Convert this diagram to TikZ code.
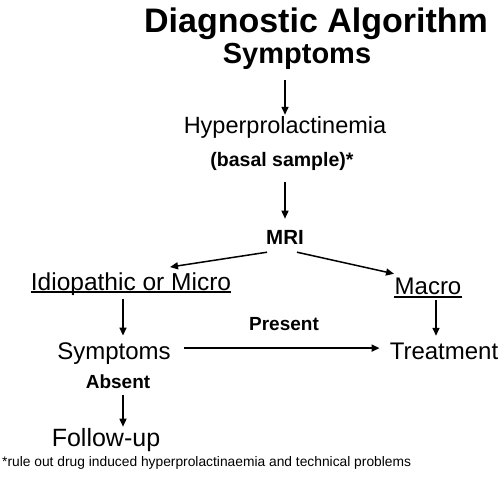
\documentclass[tikz,border=0pt]{standalone}
\usepackage{fontspec}
\setmainfont{Liberation Sans}
\usetikzlibrary{arrows.meta,positioning}
\newcommand{\fsz}[1]{\fontsize{#1}{#1}\selectfont}
\tikzset{
  basetext/.style={inner sep=0pt,anchor=base},
  titlenode/.style={basetext,font=\fsz{34}\bfseries},
  headnode/.style={basetext,font=\fsz{29}\bfseries},
  stepnode/.style={basetext,font=\fsz{24}},
  labnode/.style={basetext,font=\fsz{19}\bfseries},
  mrinode/.style={basetext,font=\fsz{20.5}\bfseries},
  notenode/.style={inner sep=0pt,anchor=base west,font=\fsz{13.8}},
  arr/.style={-{Triangle[length=8pt,width=7pt]},line width=1.5pt,color=black},
  uline/.style={line width=1.3pt}
}
\begin{document}
\begin{tikzpicture}[x=1pt,y=-1pt]
  \useasboundingbox (0,0) rectangle (500,482);
  %% Title and first steps
  \node[titlenode] (title) at (316,32) {Diagnostic Algorithm};
  \node[headnode] (symtop) at (297,63) {Symptoms};
  \node[stepnode,font=\fsz{23.5}] (hyp) at (285,133) {Hyperprolactinemia};
  \node[labnode,font=\fsz{19.5}\bfseries] (basal) at (282,166) {(basal sample)*};
  \node[mrinode] (mri) at (285,244) {MRI};

  %% Branches
  \node[stepnode,font=\fsz{24.5}] (idio) at (131,290) {Idiopathic or Micro};
  \node[stepnode] (macro) at (428,294) {Macro};
  \node[stepnode] (sym) at (114,359) {Symptoms};
  \node[stepnode] (treat) at (444,359) {Treatment};
  \node[labnode] (present) at (284,330) {Present};
  \node[labnode] (absent) at (118,388) {Absent};
  \node[stepnode,font=\fsz{25}] (follow) at (106,446) {Follow-up};

  %% Footnote
  \node[notenode] (note) at (2,466) {*rule out drug induced hyperprolactinaemia and technical problems};

  %% Underlines
  \draw[uline] ([yshift=-2pt]idio.base west) -- ([yshift=-2pt]idio.base east);
  \draw[uline] ([yshift=-3pt]macro.base west) -- ([yshift=-3pt]macro.base east);

  %% Arrows
  \draw[arr,shorten <=11pt,shorten >=1pt] (hyp.north |- symtop.south) -- (hyp.north);
  \draw[arr,shorten <=12pt,shorten >=11pt] (mri.north |- basal.south) -- (mri.north);
  \draw[arr] ([xshift=-18pt,yshift=-8pt]mri.south) -- ([xshift=39pt,yshift=5pt]idio.north);
  \draw[arr] ([xshift=12pt,yshift=-8pt]mri.south) -- ([xshift=-34pt,yshift=3.5pt]macro.north);
  \draw[arr,shorten <=4pt,shorten >=6.5pt] ([xshift=9pt]sym.north |- idio.south) -- ([xshift=9pt]sym.north);
  \draw[arr,shorten <=6pt,shorten >=6.5pt] ([xshift=8pt]macro.south) -- ([xshift=8pt]macro.south |- treat.north);
  \draw[arr,shorten <=13pt,shorten >=10pt] ([yshift=5pt]sym.east) -- ([yshift=5pt]sym.east -| treat.west);
  \draw[arr,shorten <=7pt,shorten >=1pt] ([xshift=5pt]absent.south) -- ([xshift=5pt]absent.south |- follow.north);
\end{tikzpicture}
\end{document}
